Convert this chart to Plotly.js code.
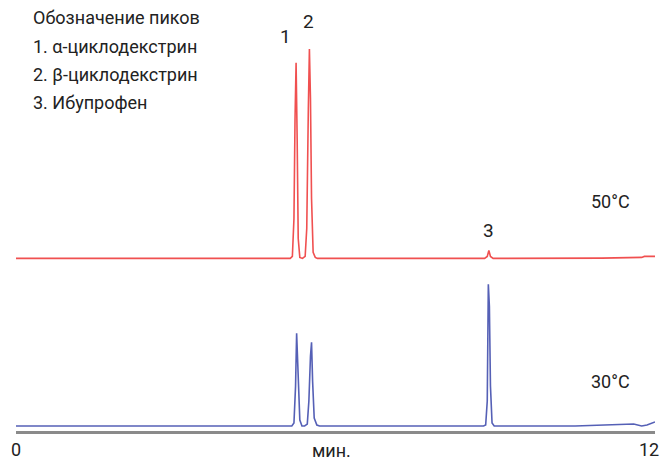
<!DOCTYPE html>
<html>
<head>
<meta charset="utf-8">
<script src="https://cdn.plot.ly/plotly-3.0.1.min.js"></script>
<style>
html,body{margin:0;padding:0;background:#fff;}
#chart{width:663px;height:460px;}
</style>
</head>
<body>
<div id="chart"></div>
<script>
// 50°C chromatogram (time in min, signal in relative units)
var time50 = [0, 5.15, 5.19, 5.22, 5.24, 5.26, 5.28, 5.30, 5.33, 5.38, 5.43, 5.46, 5.49, 5.51, 5.53, 5.55, 5.58, 5.62, 5.66, 8.80, 8.85, 8.88, 8.91, 8.96, 11.0, 11.75, 11.8, 12.0];
var signal50 = [0, 0, 2, 40, 140, 196, 120, 20, 1, 0, 2, 30, 150, 210, 160, 60, 6, 1, 0, 0, 2, 8, 2, 0, 0.3, 1, 2, 2];

// 30°C chromatogram
var time30 = [0, 5.18, 5.22, 5.25, 5.27, 5.29, 5.31, 5.33, 5.37, 5.42, 5.47, 5.50, 5.53, 5.55, 5.57, 5.60, 5.65, 5.70, 8.78, 8.82, 8.85, 8.87, 8.89, 8.91, 8.94, 8.98, 10.5, 11.3, 11.6, 11.75, 11.85, 12.0];
var signal30 = [0, 0, 3, 40, 93, 60, 40, 6, 0, 0, 2, 25, 70, 84, 45, 8, 1, 0, 0, 1, 25, 142, 120, 40, 3, 0, 0, 2, 2, 0, 1, 4];

var xTicks = [0, 12];
var xTickText = ['0', '12'];
var xTitle = 'мин.';
var peakLegend = ['Обозначение пиков', '1. α-циклодекстрин', '2. β-циклодекстрин', '3. Ибупрофен'];
var peakLabels = ['1', '2', '3'];
var peakTimes = [5.07, 5.50, 8.88];
var peakLabelY = [209, 224, 14];
var tempLabels = ['50°C', '30°C'];

var FONT = 'Roboto, "Liberation Sans Narrow", "Liberation Sans", sans-serif';
var TXT = '#222';

var traces = [
  {x: time30, y: signal30, type: 'scatter', mode: 'lines', yaxis: 'y',
   line: {color: '#5560b6', width: 1.6}, hoverinfo: 'skip', showlegend: false},
  {x: time50, y: signal50, type: 'scatter', mode: 'lines', yaxis: 'y2',
   line: {color: '#f05050', width: 1.6}, hoverinfo: 'skip', showlegend: false}
];

var annotations = [];
for (var j = 0; j < peakLegend.length; j++) {
  annotations.push({
    xref: 'paper', yref: 'paper', x: 0.024, y: 1 - (8 + j * 28.2) / 422,
    xanchor: 'left', yanchor: 'middle',
    text: peakLegend[j], showarrow: false, align: 'left',
    font: {family: FONT, size: 18, color: TXT}
  });
}
for (var i = 0; i < peakLabels.length; i++) {
  annotations.push({
    xref: 'x', yref: 'y2', x: peakTimes[i], y: peakLabelY[i], xanchor: 'center', yanchor: 'bottom',
    text: peakLabels[i], showarrow: false, font: {family: FONT, size: 19, color: TXT}
  });
}
annotations.push({xref: 'x', yref: 'y2', x: 11.17, y: 57, text: tempLabels[0], showarrow: false,
  xanchor: 'center', yanchor: 'middle', font: {family: FONT, size: 18, color: TXT}});
annotations.push({xref: 'x', yref: 'y', x: 11.17, y: 45, text: tempLabels[1], showarrow: false,
  xanchor: 'center', yanchor: 'middle', font: {family: FONT, size: 18, color: TXT}});
// axis tick labels (drawn as annotations so the end labels stay inside the picture)
annotations.push({xref: 'x', yref: 'paper', x: xTicks[0], y: -19 / 422, text: xTickText[0],
  showarrow: false, xanchor: 'center', yanchor: 'middle',
  font: {family: FONT, size: 18, color: TXT}});
annotations.push({xref: 'x', yref: 'paper', x: xTicks[1], xshift: 6, y: -19 / 422, text: xTickText[1],
  showarrow: false, xanchor: 'right', yanchor: 'middle',
  font: {family: FONT, size: 18, color: TXT}});
annotations.push({xref: 'paper', yref: 'paper', x: 0.493, y: -20 / 422, text: xTitle,
  showarrow: false, xanchor: 'center', yanchor: 'middle',
  font: {family: FONT, size: 18, color: TXT}});

var layout = {
  width: 663, height: 460,
  margin: {l: 16, r: 8, t: 10, b: 29, pad: 0},
  paper_bgcolor: '#fff', plot_bgcolor: '#fff',
  showlegend: false,
  xaxis: {
    range: [0, 12], showgrid: false, zeroline: false,
    showline: true, linecolor: '#8a8a8a', linewidth: 2.5,
    showticklabels: false, ticks: '',
    automargin: false
  },
  yaxis: {range: [-5, 417], visible: false, fixedrange: true},
  yaxis2: {range: [-173, 249], visible: false, overlaying: 'y', fixedrange: true},
  annotations: annotations
};

Plotly.newPlot('chart', traces, layout, {staticPlot: true});
</script>
</body>
</html>
